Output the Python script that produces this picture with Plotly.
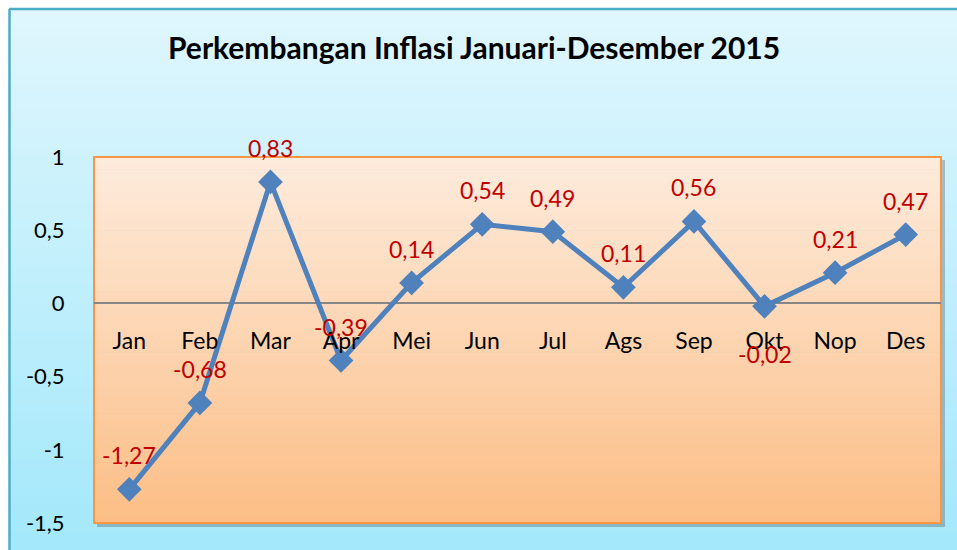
import plotly.graph_objects as go

# ---- data ----
months = ["Jan", "Feb", "Mar", "Apr", "Mei", "Jun", "Jul", "Ags", "Sep", "Okt", "Nop", "Des"]
inflation = [-1.27, -0.68, 0.83, -0.39, 0.14, 0.54, 0.49, 0.11, 0.56, -0.02, 0.21, 0.47]
y_tickvals = [-1.5, -1, -0.5, 0, 0.5, 1]
y_ticktext = ["-1,5", "-1", "-0,5", "0", "0,5", "1"]
labels_below = ["Okt"]
title_text = "Perkembangan Inflasi Januari-Desember 2015"

# ---- layout geometry (pixels) ----
W, H = 957, 550
L, R, T, B = 94, 941, 157, 523
FONT = "Lato"


def px_x(p):
    return (p - L) / (R - L)


def px_y(p):
    return (B - p) / (B - T)


def lerp(c1, c2, t):
    return "rgb(%d,%d,%d)" % tuple(round(a + (b - a) * t) for a, b in zip(c1, c2))


shapes = []
# outer chart area gradient (light blue)
n = 60
top_c, bot_c = (223, 246, 253), (162, 232, 251)
y0p, y1p = 9, 560
for i in range(n):
    ya = y0p + (y1p - y0p) * i / n
    yb = y0p + (y1p - y0p) * (i + 1) / n + 1
    shapes.append(dict(type="rect", xref="paper", yref="paper",
                       x0=px_x(9), x1=px_x(980), y0=px_y(yb), y1=px_y(ya),
                       fillcolor=lerp(top_c, bot_c, i / (n - 1)), line_width=0, layer="below"))
# outer border (left and top)
shapes.append(dict(type="line", xref="paper", yref="paper", x0=px_x(9.5), x1=px_x(9.5),
                   y0=px_y(9), y1=px_y(560), line=dict(color="#4BACC6", width=2.5), layer="below"))
shapes.append(dict(type="line", xref="paper", yref="paper", x0=px_x(9), x1=px_x(980),
                   y0=px_y(9), y1=px_y(9), line=dict(color="#4BACC6", width=2.5), layer="below"))
# plot area shadow
shapes.append(dict(type="rect", xref="paper", yref="paper", x0=px_x(L + 3), x1=px_x(R + 4),
                   y0=px_y(B + 4), y1=px_y(T + 3), fillcolor="rgba(90,90,90,0.35)",
                   line_width=0, layer="below"))
# plot area gradient (orange)
top_o, bot_o = (253, 235, 220), (252, 190, 134)
for i in range(n):
    ya = T + (B - T) * i / n
    yb = T + (B - T) * (i + 1) / n + 0.6
    shapes.append(dict(type="rect", xref="paper", yref="paper",
                       x0=0, x1=1, y0=max(0, px_y(yb)), y1=px_y(ya),
                       fillcolor=lerp(top_o, bot_o, i / (n - 1)), line_width=0, layer="below"))
# plot area border
shapes.append(dict(type="rect", xref="paper", yref="paper", x0=0, x1=1, y0=0, y1=1,
                   line=dict(color="#F79646", width=2), fillcolor="rgba(0,0,0,0)", layer="below"))

fig = go.Figure()
fig.add_trace(go.Scatter(
    x=months, y=inflation, mode="lines+markers",
    line=dict(color="#4F81BD", width=5),
    marker=dict(symbol="diamond", size=19, color="#4F81BD"),
    hoverinfo="x+y", showlegend=False,
))

annotations = []
for m, v in zip(months, inflation):
    txt = ("%.2f" % v).replace(".", ",")
    below = m in labels_below
    annotations.append(dict(x=m, y=v, xref="x", yref="y", text=txt, showarrow=False,
                            yanchor="middle", xanchor="center",
                            yshift=-48 if below else 34,
                            font=dict(family=FONT, size=23, color="#C00000")))
annotations.append(dict(x=px_x(474), y=px_y(47), xref="paper", yref="paper",
                        xanchor="center", yanchor="middle",
                        text="<b>%s</b>" % title_text, showarrow=False,
                        font=dict(family=FONT, size=30, color="black")))

fig.update_layout(
    width=W, height=H,
    margin=dict(l=L, r=W - R, t=T, b=H - B, pad=0),
    paper_bgcolor="white", plot_bgcolor="rgba(0,0,0,0)",
    separators=",.",
    font=dict(family=FONT, size=20, color="black"),
    shapes=shapes, annotations=annotations,
    xaxis=dict(type="category", anchor="free", position=px_y(303.5),
               showgrid=False, showline=False, zeroline=False,
               ticks="outside", ticklen=17, tickcolor="rgba(0,0,0,0)",
               tickfont=dict(family=FONT, size=23, color="black"),
               range=[-0.5, len(months) - 0.5], fixedrange=True),
    yaxis=dict(range=[-1.5, 1], tickvals=y_tickvals, ticktext=y_ticktext,
               showgrid=False, showline=False, zeroline=True,
               zerolinecolor="#868686", zerolinewidth=1.5,
               ticks="outside", ticklen=24, tickcolor="rgba(0,0,0,0)",
               tickfont=dict(family=FONT, size=22, color="black"), fixedrange=True),
)

fig.write_html(
    "out.html",
    config={"displayModeBar": False},
    post_script="document.body.style.margin='0';document.body.style.overflow='hidden';",
)
